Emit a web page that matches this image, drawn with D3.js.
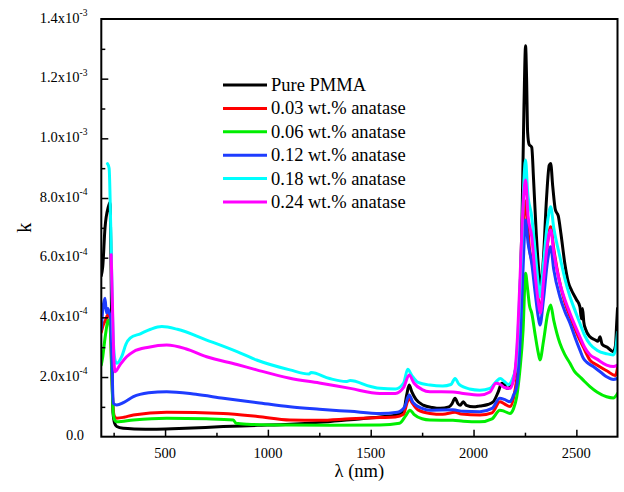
<!DOCTYPE html>
<html>
<head>
<meta charset="utf-8">
<script src="https://cdn.jsdelivr.net/npm/d3@7"></script>
<style>
  body { margin: 0; background: #fff; }
  svg { display: block; }
  text { font-family: "Liberation Serif", "Times New Roman", serif; fill: #000; }
</style>
</head>
<body>
<svg id="chart" width="624" height="492"></svg>
<script>
// Extinction coefficient k (in units of 1e-4) versus wavelength (nm)
const seriesNames = ["Pure PMMA", "0.03 wt.% anatase", "0.06 wt.% anatase",
                     "0.12 wt.% anatase", "0.18 wt.% anatase", "0.24 wt.% anatase"];
const seriesColors = ["#000000", "#ff0000", "#00ee00", "#1e3cff", "#00ffff", "#ff00ff"];

const purePMMA = [[190,5.4],[197,5.7],[208,7.0],[224,7.7],[232,7.85],[237,6.0],[242,2.5],[247,0.8],[255,0.45],[265,0.34],[297,0.28],[350,0.26],[459,0.25],[600,0.28],[783,0.34],[950,0.38],[1107,0.42],[1250,0.48],[1400,0.57],[1545,0.66],[1620,0.72],[1660,0.85],[1675,1.4],[1687,1.73],[1700,1.5],[1720,1.25],[1755,1.06],[1800,0.98],[1837,0.95],[1880,1.0],[1895,1.1],[1910,1.29],[1925,1.1],[1935,1.05],[1950,1.17],[1965,1.05],[2000,1.0],[2031,1.03],[2070,1.08],[2096,1.17],[2120,1.5],[2137,1.79],[2150,1.75],[2161,1.62],[2175,1.65],[2193,1.9],[2210,2.6],[2225,4.5],[2235,7.0],[2245,11.0],[2253,13.1],[2258,12.0],[2263,10.2],[2270,9.8],[2283,9.7],[2292,8.6],[2305,6.8],[2318,5.5],[2328,5.0],[2340,6.0],[2355,8.0],[2368,9.1],[2375,9.16],[2385,8.4],[2398,7.6],[2412,7.4],[2425,6.8],[2444,5.8],[2460,5.2],[2477,4.9],[2500,4.6],[2517,4.36],[2525,3.95],[2530,4.3],[2536,3.85],[2545,3.6],[2566,3.35],[2590,3.25],[2605,3.2],[2615,3.35],[2625,3.1],[2650,3.0],[2679,2.85],[2690,3.05],[2696,3.8],[2700,4.3]];

const anatase003 = [[190,3.5],[197,3.69],[210,3.9],[224,4.1],[232,4.0],[240,2.5],[248,0.9],[255,0.67],[265,0.62],[300,0.65],[346,0.73],[508,0.82],[783,0.78],[950,0.68],[1107,0.56],[1250,0.55],[1400,0.6],[1545,0.64],[1620,0.66],[1660,0.75],[1675,1.1],[1687,1.29],[1700,1.15],[1730,0.9],[1788,0.78],[1850,0.75],[1910,0.82],[1940,0.76],[2031,0.73],[2090,0.8],[2128,1.17],[2150,1.1],[2177,1.01],[2200,1.5],[2215,2.3],[2230,4.5],[2243,7.2],[2253,7.9],[2262,7.2],[2272,6.3],[2283,5.9],[2300,5.2],[2315,4.6],[2328,4.36],[2345,5.3],[2362,6.6],[2375,7.04],[2390,6.3],[2412,5.4],[2444,4.5],[2477,3.9],[2517,3.24],[2534,3.0],[2566,2.57],[2600,2.4],[2650,2.2],[2690,2.05],[2700,2.3]];

const anatase006 = [[190,2.4],[197,2.68],[210,3.4],[224,3.9],[232,3.8],[240,2.3],[248,0.8],[255,0.56],[265,0.5],[346,0.56],[508,0.62],[700,0.6],[832,0.56],[845,0.45],[900,0.42],[1107,0.39],[1300,0.38],[1545,0.39],[1640,0.45],[1670,0.7],[1691,0.89],[1710,0.75],[1750,0.6],[1788,0.56],[1900,0.55],[1950,0.52],[2031,0.5],[2090,0.6],[2128,0.89],[2150,0.85],[2177,0.78],[2195,0.95],[2210,1.34],[2225,2.2],[2241,3.58],[2253,5.48],[2262,5.0],[2272,4.4],[2283,4.14],[2300,3.4],[2315,2.8],[2323,2.57],[2340,3.2],[2360,4.1],[2375,4.41],[2390,3.9],[2420,3.13],[2444,2.75],[2469,2.46],[2490,2.2],[2517,2.01],[2540,1.85],[2566,1.68],[2600,1.5],[2647,1.34],[2680,1.3],[2700,1.45]];

const anatase012 = [[190,3.6],[197,4.25],[208,4.64],[215,4.15],[222,4.3],[229,4.14],[236,4.0],[242,2.5],[248,1.12],[265,1.06],[300,1.15],[346,1.34],[420,1.47],[508,1.51],[650,1.42],[783,1.29],[950,1.14],[1107,1.0],[1250,0.92],[1400,0.85],[1545,0.78],[1630,0.82],[1665,1.0],[1687,1.4],[1705,1.15],[1750,0.95],[1788,0.89],[1900,0.9],[1950,0.85],[2031,0.84],[2090,0.95],[2128,1.29],[2150,1.25],[2177,1.17],[2195,1.4],[2210,1.68],[2225,3.0],[2240,5.5],[2253,7.26],[2265,6.5],[2283,5.81],[2300,4.8],[2315,4.0],[2323,3.74],[2340,4.6],[2360,5.9],[2375,6.37],[2390,5.6],[2420,4.69],[2444,4.2],[2469,3.8],[2495,3.3],[2517,2.91],[2534,2.63],[2550,2.5],[2582,2.35],[2620,2.15],[2647,2.01],[2680,1.92],[2700,1.95]];

const anatase018 = [[220,9.15],[228,9.0],[236,7.0],[245,4.0],[252,2.8],[260,2.5],[265,2.46],[290,2.7],[310,3.1],[330,3.3],[380,3.45],[430,3.6],[484,3.69],[560,3.6],[702,3.24],[850,2.85],[945,2.57],[1107,2.24],[1200,2.1],[1210,2.15],[1300,1.95],[1380,1.85],[1400,1.88],[1500,1.68],[1545,1.62],[1620,1.6],[1660,1.8],[1680,2.26],[1700,2.05],[1730,1.82],[1788,1.73],[1850,1.7],[1890,1.75],[1910,1.95],[1930,1.75],[1980,1.6],[2031,1.56],[2080,1.62],[2110,1.85],[2130,1.95],[2150,1.85],[2170,1.75],[2190,1.95],[2205,2.3],[2220,4.0],[2235,6.5],[2245,8.6],[2253,9.27],[2263,8.2],[2283,7.37],[2300,6.2],[2315,5.1],[2323,4.69],[2340,5.8],[2360,7.2],[2375,7.71],[2390,7.0],[2420,6.03],[2444,5.3],[2469,4.69],[2495,4.2],[2517,3.8],[2540,3.4],[2566,3.1],[2600,2.9],[2647,2.78],[2679,2.74],[2690,2.9],[2700,3.5]];

const anatase024 = [[238,6.1],[244,4.5],[250,2.8],[257,2.18],[280,2.4],[313,2.68],[346,2.85],[420,3.0],[508,3.07],[600,2.95],[702,2.68],[850,2.42],[945,2.24],[1107,1.96],[1250,1.8],[1400,1.62],[1545,1.45],[1620,1.45],[1660,1.65],[1687,2.07],[1710,1.8],[1750,1.58],[1788,1.51],[1900,1.5],[1950,1.45],[2031,1.4],[2080,1.5],[2109,1.79],[2130,1.75],[2150,1.65],[2177,1.62],[2200,2.12],[2215,3.5],[2230,6.0],[2243,8.0],[2253,8.6],[2265,7.4],[2283,6.7],[2300,5.4],[2315,4.5],[2325,4.14],[2340,5.2],[2360,6.5],[2375,6.93],[2390,6.2],[2420,5.14],[2444,4.6],[2469,4.14],[2495,3.7],[2517,3.35],[2540,3.0],[2566,2.75],[2600,2.6],[2647,2.4],[2680,2.35],[2700,2.4]];

const xMajorTicks = [500, 1000, 1500, 2000, 2500];
const xMinorTicks = [250, 750, 1250, 1750, 2250];
const yMajorTicks = [0, 2e-4, 4e-4, 6e-4, 8e-4, 1.0e-3, 1.2e-3, 1.4e-3];
const yMinorTicks = [1e-4, 3e-4, 5e-4, 7e-4, 9e-4, 1.1e-3, 1.3e-3];
const yTickMantissa = ["0.0", "2.0", "4.0", "6.0", "8.0", "1.0", "1.2", "1.4"];
const yTickExponent = ["", "-4", "-4", "-4", "-4", "-3", "-3", "-3"];

const allSeries = [purePMMA, anatase003, anatase006, anatase012, anatase018, anatase024];

const svg = d3.select("#chart");
const plot = { left: 101.3, right: 617.5, top: 19, bottom: 436.7 };

const x = d3.scaleLinear().domain([190, 2700]).range([plot.left, plot.right]);
const y = d3.scaleLinear().domain([0, 1.4e-3]).range([plot.bottom, plot.top]);

svg.append("defs").append("clipPath").attr("id", "plot-clip")
  .append("rect")
  .attr("x", plot.left).attr("y", plot.top)
  .attr("width", plot.right - plot.left).attr("height", plot.bottom - plot.top);

// Data curves
const line = d3.line()
  .x(d => x(d[0]))
  .y(d => y(d[1] * 1e-4))
  .curve(d3.curveMonotoneX);

const curves = svg.append("g").attr("clip-path", "url(#plot-clip)");
allSeries.forEach((data, i) => {
  curves.append("path")
    .datum(data)
    .attr("d", line)
    .attr("fill", "none")
    .attr("stroke", seriesColors[i])
    .attr("stroke-width", 3)
    .attr("stroke-linejoin", "round")
    .attr("stroke-linecap", "round");
});

// Axes: inward ticks, labels drawn separately
const axisStyle = g => {
  g.select(".domain").remove();
  g.selectAll(".tick line").attr("stroke", "#000").attr("stroke-width", 1.5);
  g.selectAll(".tick text").remove();
};

svg.append("g").attr("transform", `translate(0,${plot.bottom})`)
  .call(d3.axisBottom(x).tickValues(xMajorTicks).tickSize(-7)).call(axisStyle);
svg.append("g").attr("transform", `translate(0,${plot.bottom})`)
  .call(d3.axisBottom(x).tickValues(xMinorTicks).tickSize(-4)).call(axisStyle);
svg.append("g").attr("transform", `translate(${plot.left},0)`)
  .call(d3.axisLeft(y).tickValues(yMajorTicks.slice(1, -1)).tickSize(-7)).call(axisStyle);
svg.append("g").attr("transform", `translate(${plot.left},0)`)
  .call(d3.axisLeft(y).tickValues(yMinorTicks).tickSize(-4)).call(axisStyle);

// Frame
svg.append("rect")
  .attr("x", plot.left).attr("y", plot.top)
  .attr("width", plot.right - plot.left).attr("height", plot.bottom - plot.top)
  .attr("fill", "none").attr("stroke", "#000").attr("stroke-width", 2);

// X tick labels
svg.append("g").selectAll("text").data(xMajorTicks).join("text")
  .attr("x", d => x(d)).attr("y", plot.bottom + 21)
  .attr("text-anchor", "middle").attr("font-size", 14.5)
  .text(d => d);

// Y tick labels with superscript exponents
const yLab = svg.append("g").selectAll("text").data(yMajorTicks).join("text")
  .attr("x", (d, i) => yTickExponent[i] ? 87.5 : 84)
  .attr("y", d => y(d) + 3.5)
  .attr("text-anchor", "end").attr("font-size", 14.5);
yLab.each(function(d, i) {
  const t = d3.select(this);
  if (yTickExponent[i]) {
    t.append("tspan").text(yTickMantissa[i] + "x10");
    t.append("tspan").attr("font-size", 9.5).attr("dy", -6.5).text(yTickExponent[i]);
  } else {
    t.text(yTickMantissa[i]);
  }
});

// Axis titles
svg.append("text")
  .attr("x", (plot.left + plot.right) / 2).attr("y", 477)
  .attr("text-anchor", "middle").attr("font-size", 18.5)
  .text("λ (nm)");
svg.append("text")
  .attr("transform", `translate(31,${(plot.top + plot.bottom) / 2}) rotate(-90)`)
  .attr("text-anchor", "middle").attr("font-size", 20)
  .text("k");

// Legend
const legend = svg.append("g");
seriesNames.forEach((name, i) => {
  const ly = 85 + i * 23.4;
  legend.append("line")
    .attr("x1", 223).attr("x2", 267).attr("y1", ly).attr("y2", ly)
    .attr("stroke", seriesColors[i]).attr("stroke-width", 3);
  legend.append("text")
    .attr("x", 271).attr("y", ly + 6)
    .attr("font-size", 18.5)
    .text(name);
});
</script>
</body>
</html>
